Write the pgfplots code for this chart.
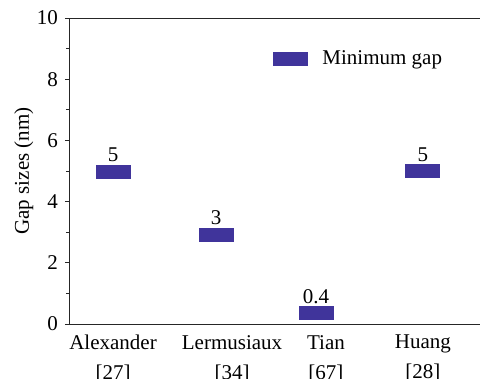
\documentclass[border=0pt]{standalone}
\usepackage{pgfplots}
\pgfplotsset{compat=1.18}
\usepackage{fontspec}
\setmainfont{Liberation Serif}
\definecolor{barblue}{RGB}{64,52,155}
\newcommand{\ff}{\fontsize{21bp}{25bp}\selectfont}
\begin{document}
\ff
\begin{tikzpicture}
\useasboundingbox (0,0) rectangle (480bp,379bp);
\begin{axis}[
  at={(69bp,55bp)}, anchor=south west,
  width=411bp, height=306bp, scale only axis,
  xmin=0.574, xmax=4.552, ymin=0, ymax=10,
  axis x line*=box, axis y line*=left,
  axis line style={line width=0.8bp, black!85},
  xtick={1,2.152,3.061,4},
  xticklabels={{Alexander\\[5bp]{[27]}},{Lermusiaux\\[5bp]{[34]}},{Tian\\[5bp]{[67]}},{Huang\\[5bp]{[28]}}},
  xticklabel style={align=center, font=\ff, text depth=0pt},
  xtick style={draw=none},
  ytick={0,2,4,6,8,10},
  minor y tick num=1,
  tick align=outside,
  major tick length=4bp, minor tick length=3bp,
  ytick style={line width=0.8bp, black!85},
  yticklabel style={font=\ff},
  /pgf/number format/assume math mode=true,
  ylabel={Gap sizes (nm)},
  ylabel style={font=\ff, at={(axis description cs:-0.11,0.5)}, anchor=center},
  legend style={draw=none, fill=none, at={(0.496,0.866)}, anchor=west, inner sep=0pt, font=\ff,
    nodes={inner sep=0pt}},
]
\addplot[only marks, color=barblue, mark=square*, mark size=6.5bp,
  mark options={xscale=34/13, fill=barblue, draw=barblue, line width=0pt},
  nodes near coords, point meta=explicit symbolic,
  nodes near coords style={anchor=south, inner sep=0pt, yshift=9.5bp, font=\ff, text=black},
  legend image code/.code={\fill[barblue] (0bp,-6.5bp) rectangle (34bp,6.5bp);}
] table[meta=label] {
x y label
1 4.98 5
1.997 2.92 3
2.965 0.35 0.4
4 5.0 5
};
\addlegendentry{\hspace{15bp}Minimum gap}
\end{axis}
\end{tikzpicture}
\end{document}
